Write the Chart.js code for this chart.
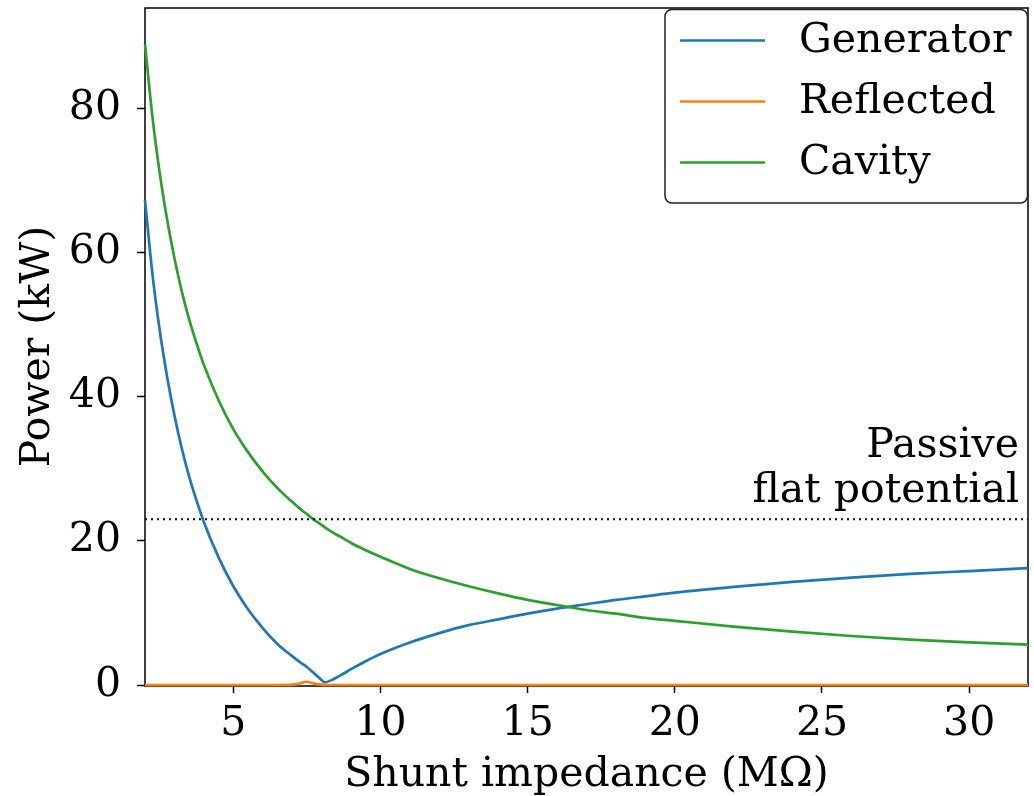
<!DOCTYPE html>
<html>
<head>
<meta charset="utf-8">
<title>Power vs shunt impedance</title>
<script src="https://cdn.jsdelivr.net/npm/chart.js@4.4.1/dist/chart.umd.min.js"></script>
<style>
  html, body { margin: 0; padding: 0; background: #fff; overflow: hidden; }
</style>
</head>
<body>
<canvas id="powerChart" width="1034" height="796"></canvas>
<script>
// --- Data ---
const xs = [2, 2.25, 2.5, 2.75, 3, 3.25, 3.5, 3.75, 4, 4.5, 5, 5.5, 6, 6.5, 7, 7.25, 7.5, 7.75, 8, 8.1,
            8.4, 8.75, 9, 9.5, 10, 11, 12, 13, 14, 15, 16, 17, 18, 19, 20, 22, 24, 26, 28, 30, 32];
const generator = [67.3, 57.1, 49.2, 42.8, 37.4, 32.8, 28.9, 25.6, 22.6, 17.7, 13.7, 10.5, 7.9, 5.7, 4.0, 3.2, 2.5, 1.6, 0.7, 0.35,
                   0.8, 1.6, 2.2, 3.3, 4.3, 5.9, 7.2, 8.3, 9.1, 9.9, 10.6, 11.2, 11.8, 12.3, 12.8, 13.6, 14.3, 14.9, 15.4, 15.8, 16.2];
const reflected = [0, 0, 0, 0, 0, 0, 0, 0, 0, 0, 0, 0, 0, 0, 0.05, 0.2, 0.45, 0.2, 0.05, 0,
                   0, 0, 0, 0, 0, 0, 0, 0, 0, 0, 0, 0, 0, 0, 0, 0, 0, 0, 0, 0, 0];
const cavity = [88.9, 78.9, 71.0, 64.6, 59.2, 54.6, 50.7, 47.4, 44.4, 39.5, 35.5, 32.3, 29.6, 27.3, 25.4, 24.5, 23.7, 22.9, 22.2, 21.9,
                21.1, 20.3, 19.7, 18.7, 17.8, 16.1, 14.8, 13.7, 12.7, 11.8, 11.1, 10.4, 9.9, 9.3, 8.9, 8.1, 7.4, 6.8, 6.3, 5.9, 5.6];
const passiveLevel = 23.0;
const passiveLabel = ['Passive', 'flat potential'];
const seriesNames = ['Generator', 'Reflected', 'Cavity'];
const seriesColors = ['#1f77b4', '#ff7f0e', '#2ca02c'];
const xTicks = [5, 10, 15, 20, 25, 30];
const yTicks = [0, 20, 40, 60, 80];

const FONT = "'DejaVu Serif', 'Liberation Serif', serif";
const FONT_SIZE = 41;

const toPoints = ys => xs.map((x, i) => ({ x: x, y: ys[i] }));

// frame under the curves; passive label and boxed legend on top
const overlayPlugin = {
    id: 'overlay',
    beforeDatasetsDraw(chart) {
        const { ctx, chartArea: a } = chart;
        ctx.save();
        ctx.strokeStyle = '#000';
        ctx.lineWidth = 1.5;
        ctx.strokeRect(a.left, a.top, a.right - a.left, a.bottom - a.top + 1);
        ctx.restore();
    },
    afterDraw(chart) {
        const { ctx, chartArea: a, scales } = chart;
        ctx.save();

        ctx.font = `${FONT_SIZE}px ${FONT}`;
        ctx.fillStyle = '#000';
        ctx.textAlign = 'right';
        ctx.textBaseline = 'alphabetic';
        const py = scales.y.getPixelForValue(passiveLevel);
        ctx.fillText(passiveLabel[0], a.right - 9, py - 62);
        ctx.fillText(passiveLabel[1], a.right - 9, py - 17);

        // legend box
        const bx = a.right - 363, by = a.top + 1.5, bw = 362.5, bh = 193.5;
        ctx.beginPath();
        ctx.roundRect(bx, by, bw, bh, 7);
        ctx.fillStyle = '#fff';
        ctx.fill();
        ctx.strokeStyle = '#222';
        ctx.lineWidth = 1.5;
        ctx.stroke();

        ctx.textAlign = 'left';
        ctx.textBaseline = 'middle';
        seriesNames.forEach((name, i) => {
            const ly = by + 31 + i * 61;
            ctx.beginPath();
            ctx.moveTo(bx + 15, ly);
            ctx.lineTo(bx + 100, ly);
            ctx.strokeStyle = seriesColors[i];
            ctx.lineWidth = 2.5;
            ctx.stroke();
            ctx.fillStyle = '#000';
            ctx.fillText(name, bx + 134, ly + 1);
        });
        ctx.restore();
    }
};

const tickFont = { family: FONT, size: FONT_SIZE };

const ctx = document.getElementById('powerChart').getContext('2d');
new Chart(ctx, {
    type: 'line',
    data: {
        datasets: [
            { label: seriesNames[0], data: toPoints(generator), borderColor: seriesColors[0], order: 4 },
            { label: seriesNames[1], data: toPoints(reflected), borderColor: seriesColors[1], order: 3 },
            { label: seriesNames[2], data: toPoints(cavity), borderColor: seriesColors[2], order: 2 },
            {
                label: 'passive',
                data: [{ x: xs[0], y: passiveLevel }, { x: xs[xs.length - 1], y: passiveLevel }],
                borderColor: '#000', borderWidth: 2, borderDash: [2, 4], order: 1,
                cubicInterpolationMode: 'default', tension: 0
            }
        ]
    },
    options: {
        responsive: false,
        devicePixelRatio: 1,
        animation: false,
        layout: { padding: { top: 8, right: 6, left: 0, bottom: 0 } },
        elements: {
            line: { borderWidth: 2.7, cubicInterpolationMode: 'monotone', fill: false },
            point: { radius: 0 }
        },
        datasets: { line: { clip: 5 } },
        plugins: { legend: { display: false }, tooltip: { enabled: false } },
        scales: {
            x: {
                type: 'linear', min: 2, max: 32,
                afterBuildTicks: s => { s.ticks = xTicks.map(v => ({ value: v })); },
                afterFit: s => { s.height = 111; s.paddingLeft = 0; s.paddingRight = 0; },
                ticks: { font: tickFont, color: '#000', padding: 7, maxRotation: 0, autoSkip: false },
                grid: { drawOnChartArea: false, tickLength: 8, tickWidth: 1.5, tickColor: '#000' },
                border: { display: false },
                title: { display: true, text: 'Shunt impedance (MΩ)', font: tickFont, color: '#000', padding: { top: 0, bottom: -4 } }
            },
            y: {
                type: 'linear', min: 0, max: 93.9,
                afterBuildTicks: s => { s.ticks = yTicks.map(v => ({ value: v })); },
                afterFit: s => { s.width = 145; s.paddingTop = 0; s.paddingBottom = 0; },
                ticks: { font: tickFont, color: '#000', padding: 16 },
                grid: { drawOnChartArea: false, tickLength: 8, tickWidth: 1.5, tickColor: '#000' },
                border: { display: false },
                title: { display: true, text: 'Power (kW)', font: tickFont, color: '#000', padding: { top: 14, bottom: 0 } }
            }
        }
    },
    plugins: [overlayPlugin]
});
</script>
</body>
</html>
